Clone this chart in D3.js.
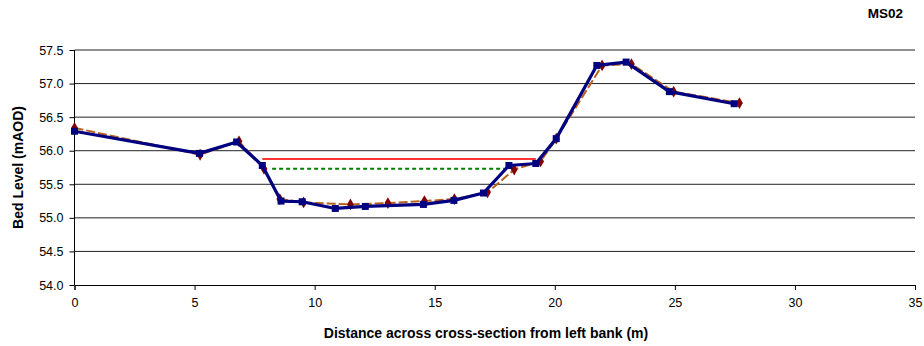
<!DOCTYPE html>
<html>
<head>
<meta charset="utf-8">
<script src="https://cdn.jsdelivr.net/npm/d3@7"></script>
<style>
  html, body { margin: 0; padding: 0; background: #fff; }
  svg { display: block; font-family: "Liberation Sans", Arial, sans-serif; }
</style>
</head>
<body>
<svg id="chart" width="924" height="346"></svg>
<script>
// Surveyed bed profile (blue squares)
const surveyX = [0, 5.2, 6.75, 7.82, 8.6, 9.48, 10.86, 12.11, 14.53, 15.8, 17.03, 18.09, 19.21, 20.06, 21.75, 22.97, 24.77, 27.47];
const surveyY = [56.29, 55.96, 56.13, 55.78, 55.25, 55.24, 55.14, 55.17, 55.2, 55.26, 55.37, 55.78, 55.81, 56.18, 57.27, 57.32, 56.88, 56.70];

// Comparison profile (dark red diamonds, dashed)
const compareX = [0, 5.23, 6.85, 7.89, 8.55, 9.54, 11.49, 13.05, 14.57, 15.82, 17.2, 18.31, 19.41, 20.06, 21.97, 23.19, 24.95, 27.69];
const compareY = [56.34, 55.94, 56.14, 55.73, 55.28, 55.23, 55.2, 55.22, 55.25, 55.28, 55.38, 55.72, 55.84, 56.18, 57.27, 57.29, 56.88, 56.71];

// Water level lines
const levelRedX = [7.82, 19.21];
const levelRedY = [55.876, 55.876];
const levelGreenX = [8.23, 18.1];
const levelGreenY = [55.73, 55.73];

const xTicks = [0, 5, 10, 15, 20, 25, 30, 35];
const yTicks = [54.0, 54.5, 55.0, 55.5, 56.0, 56.5, 57.0, 57.5];

const svg = d3.select("#chart");
const plotLeft = 74.5, plotRight = 915, plotTop = 50, plotBottom = 285;

const x = d3.scaleLinear().domain([0, 35]).range([plotLeft, plotRight]);
const y = d3.scaleLinear().domain([54, 57.5]).range([plotBottom, plotTop]);

// horizontal gridlines
svg.append("g").selectAll("line")
  .data(yTicks.filter(v => v > 54))
  .join("line")
  .attr("x1", plotLeft).attr("x2", plotRight)
  .attr("y1", d => y(d)).attr("y2", d => y(d))
  .attr("stroke", "#222").attr("stroke-width", 1);

// axes
const xAxis = d3.axisBottom(x).tickValues(xTicks).tickFormat(d3.format("d")).tickSize(5).tickPadding(8);
const yAxis = d3.axisLeft(y).tickValues(yTicks).tickFormat(d3.format(".1f")).tickSize(5).tickPadding(6);

const gx = svg.append("g").attr("transform", `translate(0,${plotBottom})`).call(xAxis);
const gy = svg.append("g").attr("transform", `translate(${plotLeft},0)`).call(yAxis);
[gx, gy].forEach(g => {
  g.select(".domain").attr("stroke", "#000");
  g.selectAll(".tick line").attr("stroke", "#000");
  g.selectAll("text").attr("font-size", 12.5).attr("fill", "#000")
    .attr("font-family", "'Liberation Sans', Arial, sans-serif");
});
gy.select(".domain").attr("d", `M0,${plotTop}V${plotBottom}`);

// level lines
const line = d3.line().x(d => x(d[0])).y(d => y(d[1]));
svg.append("path")
  .attr("d", line(d3.zip(levelRedX, levelRedY)))
  .attr("fill", "none").attr("stroke", "#ff3333").attr("stroke-width", 2);
svg.append("path")
  .attr("d", line(d3.zip(levelGreenX, levelGreenY)))
  .attr("fill", "none").attr("stroke", "#008000").attr("stroke-width", 2)
  .attr("stroke-dasharray", "4,3");

// comparison profile
const cmp = d3.zip(compareX, compareY);
svg.append("path")
  .attr("d", line(cmp))
  .attr("fill", "none").attr("stroke", "#b8621b").attr("stroke-width", 2)
  .attr("stroke-dasharray", "9,3");
svg.append("g").selectAll("path")
  .data(cmp).join("path")
  .attr("d", d3.symbol(d3.symbolDiamond, 40))
  .attr("transform", d => `translate(${x(d[0])},${y(d[1])})`)
  .attr("fill", "#800000");

// surveyed profile
const srv = d3.zip(surveyX, surveyY);
svg.append("path")
  .attr("d", line(srv))
  .attr("fill", "none").attr("stroke", "#000080").attr("stroke-width", 3.2)
  .attr("stroke-linejoin", "round");
svg.append("g").selectAll("rect")
  .data(srv).join("rect")
  .attr("x", d => x(d[0]) - 3.5).attr("y", d => y(d[1]) - 3.5)
  .attr("width", 7).attr("height", 7)
  .attr("fill", "#000080");

// titles
svg.append("text")
  .attr("x", 903).attr("y", 18).attr("text-anchor", "end")
  .attr("font-size", 13.5).attr("font-weight", "bold").text("MS02");
svg.append("text")
  .attr("x", 486).attr("y", 338).attr("text-anchor", "middle")
  .attr("font-size", 14).attr("font-weight", "bold")
  .text("Distance across cross-section from left bank (m)");
svg.append("text")
  .attr("transform", `translate(23,${(plotTop + plotBottom) / 2}) rotate(-90)`)
  .attr("text-anchor", "middle")
  .attr("font-size", 14).attr("font-weight", "bold")
  .text("Bed Level (mAOD)");
</script>
</body>
</html>
